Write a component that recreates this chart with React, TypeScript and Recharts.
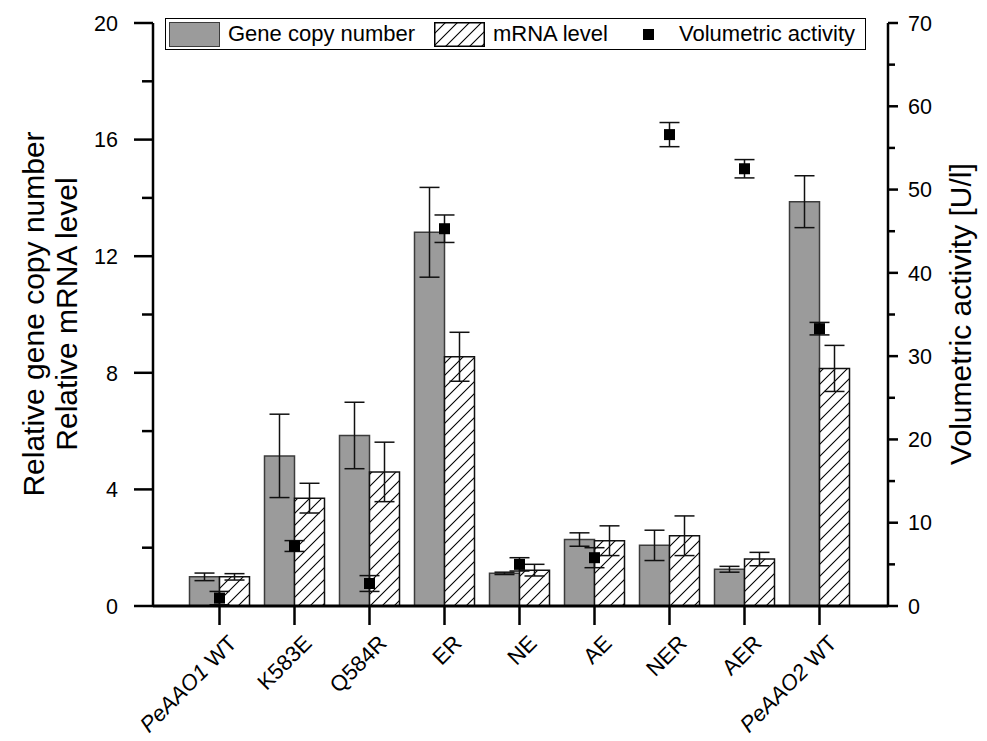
import React from 'react';
import { ComposedChart, Bar, Scatter, XAxis, YAxis, ErrorBar, Label } from 'recharts';

const categories = ['PeAAO1 WT', 'K583E', 'Q584R', 'ER', 'NE', 'AE', 'NER', 'AER', 'PeAAO2 WT'];
const geneCopy = [1.0, 5.15, 5.85, 12.82, 1.12, 2.28, 2.08, 1.26, 13.87];
const geneCopyErr = [0.13, 1.43, 1.14, 1.54, 0.04, 0.23, 0.52, 0.1, 0.89];
const mrnaLevel = [1.0, 3.7, 4.6, 8.55, 1.23, 2.24, 2.41, 1.61, 8.15];
const mrnaLevelErr = [0.11, 0.51, 1.02, 0.84, 0.2, 0.51, 0.68, 0.23, 0.79];
const activity = [0.95, 7.2, 2.7, 45.3, 5.0, 5.8, 56.6, 52.5, 33.3];
const activityErr = [0.8, 0.65, 0.95, 1.65, 0.8, 1.2, 1.45, 1.1, 0.75];

const leftTicks = [0, 2, 4, 6, 8, 10, 12, 14, 16, 18, 20];
const rightTicks = [0, 5, 10, 15, 20, 25, 30, 35, 40, 45, 50, 55, 60, 65, 70];

const data = categories.map((name, i) => ({
  name,
  gene: geneCopy[i],
  geneErr: geneCopyErr[i],
  mrna: mrnaLevel[i],
  mrnaErr: mrnaLevelErr[i],
  activity: activity[i],
  activityErr: activityErr[i],
}));

const FONT = '"Liberation Sans", Arial, Helvetica, sans-serif';
const AXIS_W = 2.5;
const LEFT_MARGIN = 35;
const RIGHT_MARGIN = 20;
const W = 979;
const H = 733;

const LeftTick = (props: any) => {
  const { x, y, payload } = props;
  const v = payload.value;
  const major = v % 4 === 0;
  const ax = x + LEFT_MARGIN;
  return (
    <g>
      <line x1={ax} x2={ax - (major ? 19 : 11)} y1={y} y2={y} stroke="#000" strokeWidth={AXIS_W} />
      {major && (
        <text x={x} y={y} dy="0.36em" textAnchor="end" fontSize={21.5} fontFamily={FONT} fill="#000">
          {v}
        </text>
      )}
    </g>
  );
};

const RightTick = (props: any) => {
  const { x, y, payload } = props;
  const v = payload.value;
  const major = v % 10 === 0;
  const ax = x - RIGHT_MARGIN;
  return (
    <g>
      <line x1={ax} x2={ax + (major ? 10 : 7)} y1={y} y2={y} stroke="#000" strokeWidth={AXIS_W} />
      {major && (
        <text x={x} y={y} dy="0.36em" textAnchor="start" fontSize={21.5} fontFamily={FONT} fill="#000">
          {v}
        </text>
      )}
    </g>
  );
};

const XTick = (props: any) => {
  const { x, y, payload } = props;
  const label: string = payload.value;
  const m = label.match(/^(PeAAO\d)(.*)$/);
  const ox = x + 13;
  const oy = y + 12;
  return (
    <text
      x={ox}
      y={oy}
      dy="0.36em"
      textAnchor="end"
      transform={`rotate(-45, ${ox}, ${oy})`}
      fontSize={22}
      fontFamily={FONT}
      fill="#000"
    >
      {m ? (
        <>
          <tspan fontStyle="italic">{m[1]}</tspan>
          <tspan>{m[2]}</tspan>
        </>
      ) : (
        label
      )}
    </text>
  );
};

const Square = (props: any) => {
  const { cx, cy } = props;
  if (cx == null || cy == null) return null;
  return <rect x={cx - 5.5} y={cy - 5.5} width={11} height={11} fill="#000" />;
};

const TITLE_CY = 306;

const LeftTitle = () => (
  <g fontFamily={FONT} fontSize={30} fill="#000">
    <text x={25} y={TITLE_CY} dy="0.36em" textAnchor="middle" transform={`rotate(-90, 25, ${TITLE_CY})`}>
      Relative gene copy number
    </text>
    <text x={58} y={TITLE_CY} dy="0.36em" textAnchor="middle" transform={`rotate(-90, 58, ${TITLE_CY})`}>
      Relative mRNA level
    </text>
  </g>
);

const RightTitle = () => (
  <g fontFamily={FONT} fontSize={30} fill="#000">
    <text x={952} y={TITLE_CY} dy="0.36em" textAnchor="middle" transform={`rotate(-90, 952, ${TITLE_CY})`}>
      Volumetric activity [U/l]
    </text>
  </g>
);

const HatchSwatch = ({ w, h }: { w: number; h: number }) => (
  <svg width={w} height={h} style={{ display: 'block' }}>
    <defs>
      <pattern id="hatchLegend" patternUnits="userSpaceOnUse" width="12" height="12">
        <rect width="12" height="12" fill="#fff" />
        <path d="M-3,3 L3,-3 M0,12 L12,0 M9,15 L15,9" stroke="#000" strokeWidth={1.1} />
      </pattern>
    </defs>
    <rect x={0.75} y={0.75} width={w - 1.5} height={h - 1.5} fill="url(#hatchLegend)" stroke="#000" strokeWidth={1.5} />
  </svg>
);

const legendText: React.CSSProperties = {
  position: 'absolute',
  top: 0,
  height: 32,
  lineHeight: '32px',
  fontSize: 22,
  fontFamily: FONT,
  color: '#000',
  whiteSpace: 'nowrap',
};

const LegendBox = () => (
  <div
    style={{
      position: 'absolute',
      left: 157,
      top: 10,
      width: 701,
      height: 32,
      border: '1.5px solid #000',
      boxSizing: 'border-box',
      background: '#fff',
    }}
  >
    <div
      style={{
        position: 'absolute',
        left: 3,
        top: 3,
        width: 51,
        height: 25,
        background: '#9b9b9b',
        border: '1.5px solid #3c3c3c',
        boxSizing: 'border-box',
      }}
    />
    <div style={{ ...legendText, left: 62, top: -1.5 }}>Gene copy number</div>
    <div style={{ position: 'absolute', left: 268, top: 3 }}>
      <HatchSwatch w={51} h={25} />
    </div>
    <div style={{ ...legendText, left: 327, top: -1.5 }}>mRNA level</div>
    <div style={{ position: 'absolute', left: 477, top: 9.5, width: 11, height: 11, background: '#000' }} />
    <div style={{ ...legendText, left: 513, top: -1.5 }}>Volumetric activity</div>
  </div>
);

export default function App() {
  return (
    <div style={{ position: 'relative', width: W, height: H, background: '#fff' }}>
      <ComposedChart
        width={W}
        height={H}
        data={data}
        margin={{ top: 15, right: 19, bottom: 35, left: 65 }}
        barCategoryGap="10%"
        barGap={0}
      >
        <defs>
          <pattern id="hatch" patternUnits="userSpaceOnUse" width="12" height="12">
            <rect width="12" height="12" fill="#fff" />
            <path d="M-3,3 L3,-3 M0,12 L12,0 M9,15 L15,9" stroke="#000" strokeWidth={1.1} />
          </pattern>
        </defs>
        <XAxis
          dataKey="name"
          height={100}
          padding={{ left: 29, right: 31 }}
          axisLine={{ stroke: '#000', strokeWidth: 3 }}
          tickLine={{ stroke: '#000', strokeWidth: AXIS_W }}
          tickSize={19}
          tickMargin={2}
          tick={<XTick />}
          interval={0}
        />
        <YAxis
          yAxisId="left"
          orientation="left"
          width={80}
          domain={[0, 20]}
          ticks={leftTicks}
          interval={0}
          tickSize={0}
          tickMargin={LEFT_MARGIN}
          tickLine={false}
          axisLine={{ stroke: '#000', strokeWidth: AXIS_W }}
          tick={<LeftTick />}
          allowDataOverflow
        >
          <Label value="left" content={() => <LeftTitle />} />
        </YAxis>
        <YAxis
          yAxisId="right"
          orientation="right"
          width={80}
          domain={[0, 70]}
          ticks={rightTicks}
          interval={0}
          tickSize={0}
          tickMargin={RIGHT_MARGIN}
          tickLine={false}
          axisLine={{ stroke: '#000', strokeWidth: AXIS_W }}
          tick={<RightTick />}
          allowDataOverflow
        >
          <Label value="right" content={() => <RightTitle />} />
        </YAxis>
        <Bar yAxisId="left" dataKey="gene" fill="#9b9b9b" stroke="#3c3c3c" strokeWidth={1.5} isAnimationActive={false}>
          <ErrorBar dataKey="geneErr" direction="y" width={10} stroke="#111" strokeWidth={1.5} />
        </Bar>
        <Bar yAxisId="left" dataKey="mrna" fill="url(#hatch)" stroke="#111" strokeWidth={1.5} isAnimationActive={false}>
          <ErrorBar dataKey="mrnaErr" direction="y" width={10} stroke="#111" strokeWidth={1.5} />
        </Bar>
        <Scatter yAxisId="right" dataKey="activity" shape={<Square />} isAnimationActive={false}>
          <ErrorBar dataKey="activityErr" direction="y" width={10} stroke="#111" strokeWidth={1.5} />
        </Scatter>
      </ComposedChart>
      <LegendBox />
    </div>
  );
}
